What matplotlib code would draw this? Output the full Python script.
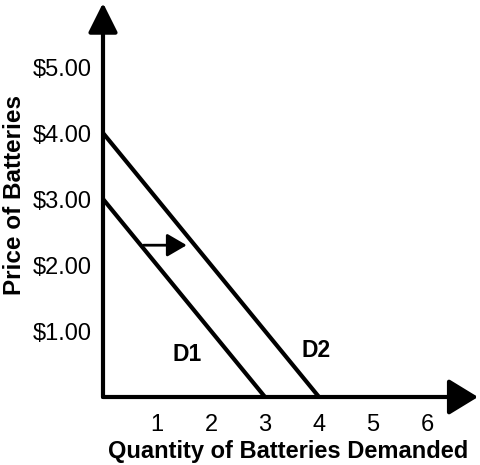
import matplotlib
matplotlib.use("Agg")
import matplotlib.pyplot as plt

plt.rcParams['font.family'] = ['Liberation Sans', 'DejaVu Sans']

# Data
d1_q = [0, 3]
d1_p = [3, 0]
d2_q = [0, 4]
d2_p = [4, 0]
x_ticks = [1, 2, 3, 4, 5, 6]
x_tick_labels = ["1", "2", "3", "4", "5", "6"]
y_ticks = [1, 2, 3, 4, 5]
y_tick_labels = ["$1.00", "$2.00", "$3.00", "$4.00", "$5.00"]
shift_from = (0.75, 2.3)
shift_to = (1.55, 2.3)

W, H = 480, 465
fig = plt.figure(figsize=(W / 100, H / 100), dpi=100)
left, right, bottom, top = 103, 478, 397, 3
ax = fig.add_axes([left / W, (H - bottom) / H, (right - left) / W, (bottom - top) / H])
xs = 54.0
ys = 66.0
ax.set_xlim(0, (right - left) / xs)
ax.set_ylim(0, (bottom - top) / ys)
for s in ax.spines.values():
    s.set_visible(False)

lw = 3.0
ax.plot(d1_q, d1_p, color='black', lw=lw, solid_capstyle='butt', clip_on=False)
ax.plot(d2_q, d2_p, color='black', lw=lw, solid_capstyle='butt', clip_on=False)

xmax = ax.get_xlim()[1]
ymax = ax.get_ylim()[1]
ax.annotate('', xy=(xmax, 0), xytext=(0, 0),
            arrowprops=dict(arrowstyle='-|>,head_length=0.9,head_width=0.55', lw=lw,
                            color='black', shrinkA=0, shrinkB=0, mutation_scale=20),
            annotation_clip=False)
ax.annotate('', xy=(0, ymax), xytext=(0, 0),
            arrowprops=dict(arrowstyle='-|>,head_length=0.9,head_width=0.45', lw=lw,
                            color='black', shrinkA=0, shrinkB=0, mutation_scale=20),
            annotation_clip=False)
ax.annotate('', xy=shift_to, xytext=shift_from,
            arrowprops=dict(arrowstyle='-|>,head_length=0.6,head_width=0.35', lw=2.0,
                            color='black', shrinkA=0, shrinkB=0, mutation_scale=20))

ax.set_xticks(x_ticks, x_tick_labels, fontsize=17)
ax.set_yticks(y_ticks, y_tick_labels, fontsize=17)
ax.tick_params(axis='x', length=0, pad=12)
ax.tick_params(axis='y', length=0, pad=8)

ax.text(1.55, 0.65, 'D1', fontsize=16.5, fontweight='bold', ha='center', va='center')
ax.text(3.95, 0.7, 'D2', fontsize=16.5, fontweight='bold', ha='center', va='center')

fig.text(288 / W, 1 - 451 / H, 'Quantity of Batteries Demanded', fontsize=17,
         fontweight='bold', ha='center', va='center')
fig.text(15 / W, 1 - 195 / H, 'Price of Batteries', fontsize=17.5, fontweight='bold',
         ha='center', va='center', rotation=90)

fig.savefig('out.png', dpi=100)
